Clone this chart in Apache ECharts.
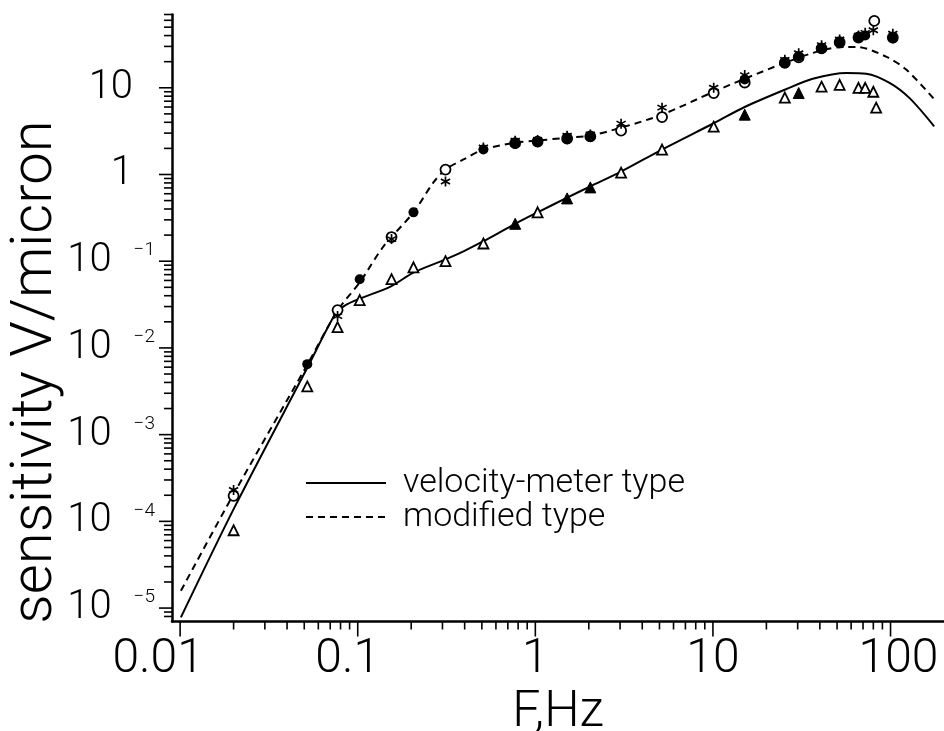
<!DOCTYPE html>
<html><head><meta charset="utf-8">
<script src="https://cdn.jsdelivr.net/npm/echarts@6/dist/echarts.min.js"></script>
<style>html,body{margin:0;padding:0;background:#fff}#c{width:944px;height:731px}</style>
</head><body><div id="c"></div>
<script>
const FONT = 'Roboto';
const xTickLabels = [0.01, 0.1, 1, 10, 100];
const yTickLabels = [1e-5, 1e-4, 1e-3, 1e-2, 1e-1, 1, 10];

const velocityCurve = [
  [0.0101, 7.8e-6], [0.0201, 1.41e-4], [0.052, 5.9e-3], [0.075, 0.025], [0.085, 0.031],
  [0.1026, 0.037], [0.153, 0.051], [0.206, 0.074], [0.312, 0.105], [0.394, 0.13],
  [0.51, 0.17], [0.77, 0.27], [1.03, 0.366], [1.51, 0.54], [2.04, 0.73], [3.04, 1.08],
  [5.17, 1.94], [10.1, 3.9], [15.1, 6.0], [25.4, 9.5], [36.5, 12.7], [56.6, 14.8],
  [73, 14.5], [98.7, 11.4], [128, 7.6], [176, 3.6]
];
const modifiedCurve = [
  [0.0101, 1.58e-5], [0.0201, 2.1e-4], [0.052, 6.4e-3], [0.077, 0.027], [0.1026, 0.057],
  [0.14, 0.149], [0.206, 0.366], [0.267, 0.81], [0.312, 1.14], [0.394, 1.49], [0.51, 1.94],
  [0.77, 2.33], [1.03, 2.46], [1.51, 2.66], [2.04, 2.81], [3.04, 3.47], [5.17, 4.9],
  [10.1, 9.0], [15.1, 12.7], [25.4, 19.4], [40.9, 27], [56.6, 29.6], [64.5, 29.6],
  [95, 22.7], [123, 16.1], [177, 7.3]
];
const openTriangles = [
  [0.02, 7.9e-5], [0.052, 3.6e-3], [0.077, 0.0174], [0.1026, 0.0356], [0.155, 0.062],
  [0.206, 0.085], [0.312, 0.1], [0.51, 0.16], [1.03, 0.366], [3.04, 1.05], [5.17, 1.94],
  [10.1, 3.56], [25.4, 7.7], [40.9, 10.3], [51.7, 10.8], [66, 10], [72, 10], [80, 9], [83, 5.9]
];
const filledTriangles = [[0.77, 0.27], [1.51, 0.53], [2.04, 0.71], [15.1, 4.9], [30.4, 8.7]];
const openCircles = [
  [0.02, 1.97e-4], [0.077, 0.0273], [0.155, 0.19], [0.312, 1.14], [0.77, 2.3], [1.03, 2.4],
  [1.51, 2.6], [2.04, 2.75], [3.04, 3.2], [5.17, 4.6], [10.1, 8.7], [15.1, 11.5], [25.4, 19.5],
  [30.4, 22.5], [40.9, 28.5], [51.7, 33.5], [66, 38], [81, 59], [103, 38]
];
const filledCircles = [
  [0.052, 6.5e-3], [0.1026, 0.062], [0.206, 0.366], [0.51, 1.94], [0.77, 2.25], [1.03, 2.35],
  [1.51, 2.55], [2.04, 2.7], [15.1, 12.5], [25.4, 19], [30.4, 23], [40.9, 28], [51.7, 33],
  [66, 37.5], [72, 40], [103, 37]
];
const stars = [
  [0.02, 2.3e-4], [0.077, 0.0233], [0.155, 0.18], [0.312, 0.83], [0.51, 2.05], [0.77, 2.45],
  [1.03, 2.5], [1.51, 2.8], [2.04, 2.9], [3.04, 3.86], [5.17, 5.9], [10.1, 10], [15.1, 14],
  [25.4, 21], [30.4, 25], [40.9, 31], [51.7, 36], [66, 40], [72, 43], [80, 46], [103, 42]
];

// minor tick positions (2..9 within each decade)
const xMinorTicks = [];
for (let e = -2; e <= 1; e++) for (let k = 2; k <= 9; k++) xMinorTicks.push(k * Math.pow(10, e));
const yMinorTicks = [8e-6, 9e-6];
for (let e = -5; e <= 1; e++) for (let k = 2; k <= 9; k++) { const v = k * Math.pow(10, e); if (v <= 70) yMinorTicks.push(v); }

const X_MIN = 0.009, X_MAX = 200, Y_MIN = 7e-6, Y_MAX = 70;

const ASTERISK = 'path://M0.8,-5L0.8,5L-0.8,5L-0.8,-5Z M4.73,-1.807L-3.93,3.193L-4.73,1.807L3.93,-3.193Z M3.93,3.193L-4.73,-1.807L-3.93,-3.193L4.73,1.807Z';

function isPow10(v) { const l = Math.log10(v); return Math.abs(l - Math.round(l)) < 1e-6; }

function xTick(len) {
  return function (params, api) {
    const cs = params.coordSys;
    const p = api.coord([api.value(0), 1]);
    const y0 = cs.y + cs.height;
    return { type: 'line', shape: { x1: p[0], y1: y0, x2: p[0], y2: y0 + len },
      style: { stroke: '#000', lineWidth: 1.6 } };
  };
}
function yTick(len) {
  return function (params, api) {
    const cs = params.coordSys;
    const p = api.coord([1, api.value(1)]);
    const x0 = cs.x;
    return { type: 'line', shape: { x1: x0, y1: p[1], x2: x0 - len, y2: p[1] },
      style: { stroke: '#000', lineWidth: 1.6 } };
  };
}

const chart = echarts.init(document.getElementById('c'), null, { renderer: 'canvas' });
const txt = { fontFamily: FONT, fontWeight: 300, color: '#000' };

chart.setOption({
  animation: false,
  backgroundColor: '#fff',
  color: ['#000'],
  grid: { left: 172, top: 14.5, right: 0, bottom: 109.5, containLabel: false, outerBoundsMode: 'none' },
  xAxis: {
    type: 'log', logBase: 10, min: X_MIN, max: X_MAX,
    axisLine: { show: true, lineStyle: { color: '#000', width: 2.5 } },
    axisTick: { show: false }, splitLine: { show: false },
    axisLabel: {
      margin: 14, showMinLabel: false, showMaxLabel: false,
      formatter: function (v) {
        if (!isPow10(v)) return '';
        const e = Math.round(Math.log10(v));
        const s = xTickLabels.find(t => Math.abs(Math.log10(t) - e) < 1e-6);
        if (s === undefined) return '';
        if (e === -2) return '{a|0.01}';
        if (e === -1) return '{b|0.1}';
        if (e === 2) return '{d|100}';
        return '{c|' + s + '}';
      },
      rich: {
        a: Object.assign({ fontSize: 48, padding: [0, 44, 0, 0] }, txt),
        b: Object.assign({ fontSize: 48, padding: [0, 20, 0, 0] }, txt),
        c: Object.assign({ fontSize: 48 }, txt),
        d: Object.assign({ fontSize: 48, padding: [0, 0, 0, 16] }, txt)
      }
    },
    name: 'F,Hz', nameLocation: 'middle', nameGap: 62,
    nameTextStyle: Object.assign({ fontSize: 50 }, txt)
  },
  yAxis: {
    type: 'log', logBase: 10, min: Y_MIN, max: Y_MAX,
    axisLine: { show: true, lineStyle: { color: '#000', width: 2.5 } },
    axisTick: { show: false }, splitLine: { show: false },
    axisLabel: {
      margin: 17, showMinLabel: false, showMaxLabel: false,
      formatter: function (v) {
        if (!isPow10(v)) return '';
        const e = Math.round(Math.log10(v));
        if (!yTickLabels.some(t => Math.abs(Math.log10(t) - e) < 1e-6)) return '';
        if (e === 1) return '{p|10}';
        if (e === 0) return '{p|1}';
        return '{b|10}{s|\u2212' + (-e) + '}';
      },
      rich: {
        p: Object.assign({ fontSize: 40, lineHeight: 40, padding: [0, 22, 0, 0] }, txt),
        b: Object.assign({ fontSize: 40, lineHeight: 40 }, txt),
        s: Object.assign({ fontSize: 19, lineHeight: 19, verticalAlign: 'top', padding: [0, 0, 0, 22] }, txt)
      }
    }
  },
  legend: {
    data: ['velocity-meter type', 'modified type'],
    orient: 'vertical', left: 300, top: 461, itemWidth: 80, itemHeight: 14, itemGap: 0,
    itemStyle: { opacity: 0 },
    textStyle: Object.assign({ fontSize: 34, lineHeight: 30, padding: [0, 0, 0, 12] }, txt),
    selectedMode: false
  },
  graphic: [{
    type: 'text', x: 36, y: 372, rotation: Math.PI / 2,
    style: Object.assign({ text: 'sensitivity V/micron', fontSize: 58, align: 'center', verticalAlign: 'middle', fill: '#000',
      fontFamily: FONT, fontWeight: 300 })
  }],
  series: [
    { type: 'custom', name: 'xMajor', data: xTickLabels.map(v => [v, 1]), renderItem: xTick(15), clip: false, silent: true, z: 5 },
    { type: 'custom', name: 'xMinor', data: xMinorTicks.map(v => [v, 1]), renderItem: xTick(8), clip: false, silent: true, z: 5 },
    { type: 'custom', name: 'yMajor', data: yTickLabels.map(v => [1, v]), renderItem: yTick(13), clip: false, silent: true, z: 5 },
    { type: 'custom', name: 'yMinor', data: yMinorTicks.map(v => [1, v]), renderItem: yTick(8), clip: false, silent: true, z: 5 },
    { type: 'line', name: 'velocity-meter type', data: velocityCurve, smooth: 0.3, symbol: 'none', showSymbol: false,
      itemStyle: { color: '#000' }, lineStyle: { color: '#000', width: 2 }, z: 2 },
    { type: 'line', name: 'modified type', data: modifiedCurve, smooth: 0.3, symbol: 'none', showSymbol: false,
      itemStyle: { color: '#000' }, lineStyle: { color: '#000', width: 2, type: [7, 5] }, z: 2 },
    { type: 'scatter', name: 'open triangles', data: openTriangles, symbol: 'triangle', symbolSize: 10,
      itemStyle: { color: '#fff', borderColor: '#000', borderWidth: 1.8, opacity: 1 }, z: 4 },
    { type: 'scatter', name: 'filled triangles', data: filledTriangles, symbol: 'triangle', symbolSize: 11,
      itemStyle: { color: '#000', borderColor: '#000', borderWidth: 1, opacity: 1 }, z: 4 },
    { type: 'scatter', name: 'open circles', data: openCircles, symbol: 'circle', symbolSize: 10,
      itemStyle: { color: '#fff', borderColor: '#000', borderWidth: 1.8, opacity: 1 }, z: 3 },
    { type: 'scatter', name: 'filled circles', data: filledCircles, symbol: 'circle', symbolSize: 10,
      itemStyle: { color: '#000', opacity: 1 }, z: 4 },
    { type: 'scatter', name: 'stars', data: stars, symbol: ASTERISK, symbolSize: 10,
      itemStyle: { color: '#000', opacity: 1 }, z: 4 }
  ]
});
</script></body></html>
